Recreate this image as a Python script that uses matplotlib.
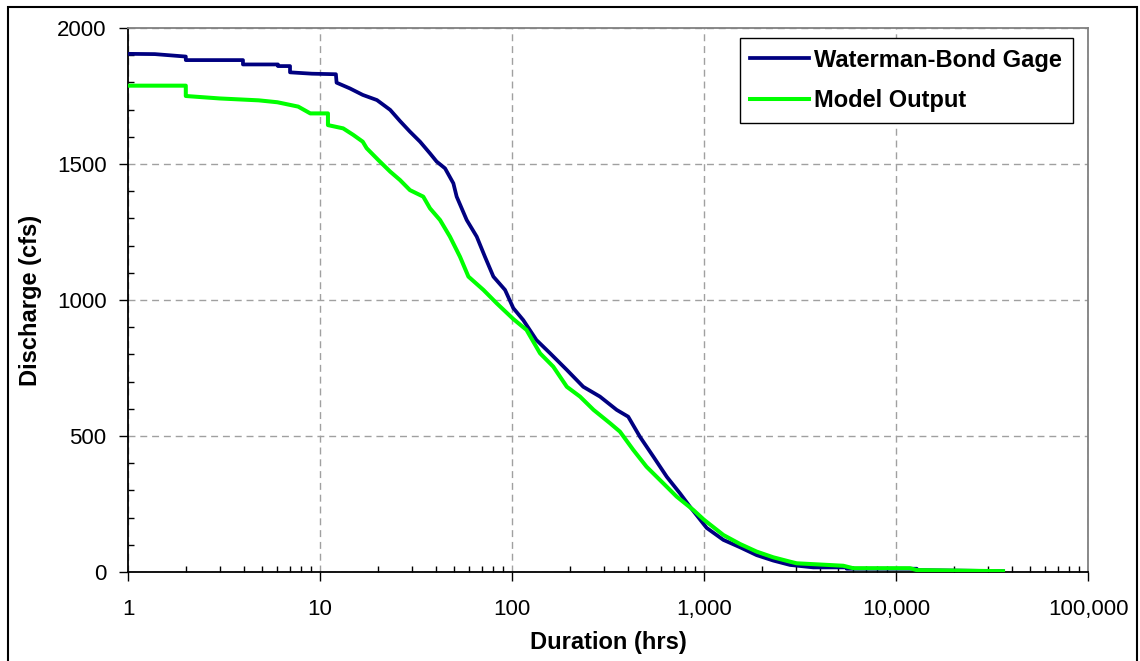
import matplotlib
matplotlib.use('Agg')
import matplotlib.pyplot as plt
from matplotlib.ticker import LogLocator, MultipleLocator, NullFormatter
from matplotlib.patches import Rectangle

# Кривые обеспеченности расхода: наблюдения на посту и модель

# значения
dur_gage = [1, 1.38, 2.0, 2.0, 3.97, 3.97, 6.04, 6.04, 6.98, 6.98, 9.08, 12.1, 12.2,
            14.3, 16.7, 19.8, 23.2, 26.1, 29.4, 33.2, 37.4, 40.5, 44.8, 49.5, 51.5,
            58.1, 65.5, 72.3, 80, 92, 101.6, 114.5, 134, 158, 193, 235, 287, 351,
            403, 464, 545, 640, 750, 845, 1033, 1262, 1540, 1880, 2296, 2805, 3710,
            5535, 5535, 12820, 12820, 36100]
q_gage = [1905, 1904, 1895, 1882, 1882, 1866, 1866, 1860, 1860, 1837, 1832, 1830, 1799,
          1778, 1754, 1735, 1699, 1658, 1619, 1582, 1539, 1509, 1484, 1429, 1380,
          1294, 1233, 1159, 1086, 1037, 970, 926, 853, 804, 743, 681, 645, 596,
          571, 497, 424, 350, 289, 240, 162, 118, 91, 62, 42, 26, 17,
          17, 12, 12, 7, 3]

dur_model = [1, 2.0, 2.0, 3.0, 4.8, 6.0, 7.7, 8.9, 11.0, 11.0, 13.2, 14.9, 16.7, 17.5,
             20.1, 23.2, 26.1, 29.4, 34.5, 37.4, 42.2, 47.5, 53.6, 59.3, 71, 83.2,
             101.6, 119, 140, 164, 193, 226, 266, 324, 365, 428, 502, 590, 721, 880,
             1000, 1262, 1540, 1880, 2296, 2805, 3040, 5310, 5980, 11830, 12820, 36100]
q_model = [1788, 1788, 1750, 1741, 1734, 1727, 1711, 1686, 1686, 1643, 1631, 1607, 1582, 1558,
           1515, 1472, 1441, 1404, 1380, 1337, 1294, 1233, 1159, 1086, 1037, 988,
           930, 890, 804, 755, 681, 645, 596, 547, 516, 449, 387, 338, 277, 228,
           192, 136, 103, 75, 54, 38, 32, 23, 14, 14, 7, 3]

x_ticks = [1, 10, 100, 1000, 10000, 100000]
x_tick_labels = ['1', '10', '100', '1,000', '10,000', '100,000']
y_ticks = [0, 500, 1000, 1500, 2000]

plt.rcParams['font.family'] = ['Liberation Sans', 'DejaVu Sans']

fig = plt.figure(figsize=(11.4, 6.61), dpi=100)
ax = fig.add_axes([128 / 1140, 1 - 572 / 661, 960 / 1140, 544 / 661])

ax.plot(dur_gage, q_gage, color='#000080', lw=2.7, label='Waterman-Bond Gage', zorder=3)
ax.plot(dur_model, q_model, color='#00ff00', lw=2.9, label='Model Output', zorder=4)

ax.set_xscale('log')
ax.set_xlim(1, 100000)
ax.set_ylim(0, 2000)

ax.set_xticks(x_ticks)
ax.set_xticklabels(x_tick_labels)
ax.xaxis.set_minor_locator(LogLocator(base=10, subs=range(2, 10)))
ax.xaxis.set_minor_formatter(NullFormatter())
ax.set_yticks(y_ticks)
ax.yaxis.set_minor_locator(MultipleLocator(100))

ax.tick_params(which='major', direction='out', length=6.5, width=1, labelsize=16, pad=9)
ax.tick_params(axis='x', which='major', pad=13)
ax.tick_params(which='minor', direction='in', length=4, width=1)
ax.tick_params(which='both', top=False, right=False)

ax.set_axisbelow(True)
ax.grid(True, which='major', color='#a0a0a0', linestyle=(0, (5, 3.5)), lw=1)

for side in ['left', 'bottom']:
    ax.spines[side].set_color('black')
    ax.spines[side].set_linewidth(1.3)
for side in ['top', 'right']:
    ax.spines[side].set_color('#808080')
    ax.spines[side].set_linewidth(1.3)

ax.set_xlabel('Duration (hrs)', fontsize=17, fontweight='bold')
ax.xaxis.set_label_coords(0.5, -0.1085)
ax.set_ylabel('Discharge (cfs)', fontsize=17, fontweight='bold')
ax.yaxis.set_label_coords(-0.0896, 0.5)

leg = ax.legend(loc='upper right', bbox_to_anchor=(0.984, 0.9816), borderaxespad=0,
                prop={'weight': 'bold', 'size': 17}, fancybox=False, framealpha=1,
                edgecolor='black', handlelength=2.5, handletextpad=0.2,
                labelspacing=0.75, borderpad=0.45)
leg.get_frame().set_linewidth(1)

# рамка вокруг всей картинки
fig.patches.append(Rectangle((8 / 1140, -0.05), (1137 - 8) / 1140, 1.05 - 7.5 / 661,
                             transform=fig.transFigure, fill=False,
                             edgecolor='black', lw=1.5))

fig.savefig('out.png', dpi=100)
